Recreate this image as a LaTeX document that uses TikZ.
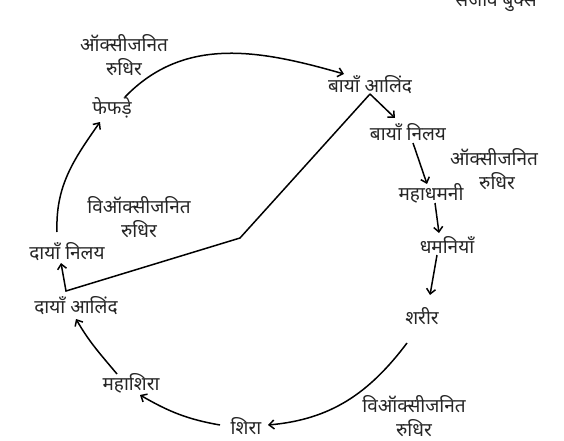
\documentclass[tikz,border=0pt]{standalone}
\usepackage{fontspec}
\newfontfamily\hindi[Script=Devanagari]{Noto Sans}
\usetikzlibrary{arrows.meta}
\usetikzlibrary{positioning}

\begin{document}
\begin{tikzpicture}[x=1pt,y=-1pt,
  lbl/.style={font=\hindi\fontsize{19}{24}\selectfont, text=black!85, inner sep=1pt},
  flow/.style={-{Straight Barb[length=5pt,width=9pt]}, line width=1.5pt}]

  \useasboundingbox (0,0) rectangle (564,441);

  % Organs
  \node[lbl] (books)      at (496,1)   {सजीव बुक्स};
  \node[lbl] (lungs)      at (112,108) {फेफड़े};
  \node[lbl] (lAtrium)    at (370,85)  {बायाँ आलिंद};
  \node[lbl] (lVentricle) at (408,132) {बायाँ निलय};
  \node[lbl] (aorta)      at (431,193) {महाधमनी};
  \node[lbl] (arteries)   at (447,245) {धमनियाँ};
  \node[lbl] (body)       at (422,316) {शरीर};
  \node[lbl] (vein)       at (246,426) {शिरा};
  \node[lbl] (venaCava)   at (131,383) {महाशिरा};
  \node[lbl] (rAtrium)    at (76,306)  {दायाँ आलिंद};
  \node[lbl] (rVentricle) at (67,252)  {दायाँ निलय};

  % Blood labels
  \node[lbl, align=center] (oxyTop)   at (124,55)  {ऑक्सीजनित\\रुधिर};
  \node[lbl, align=center] (oxyRight) at (494,169) {ऑक्सीजनित\\\hspace*{6pt}रुधिर};
  \node[lbl, align=center] (deoxyMid) at (139,217) {विऑक्सीजनित\\रुधिर};
  \node[lbl, align=center] (deoxyBot) at (414,416) {विऑक्सीजनित\\रुधिर};

  % Wall
  \coordinate (septum) at (240,238);
  \coordinate (corner) at (66,291);

  % Flows
  \draw[flow] ([shift={(13,-11)}]lungs.center) to[out=46,in=164] ([shift={(-26,-11)}]lAtrium.center);
  \draw[flow] ([shift={(0,9)}]lAtrium.center) -- ([shift={(-13,-14)}]lVentricle.center);
  \draw[flow] ([shift={(0,9)}]lAtrium.center) -- (septum) -- (corner) -- ([shift={(-6,11)}]rVentricle.center);
  \draw[flow] ([shift={(-10,-20)}]rVentricle.center) to[out=92,in=235] ([shift={(-12,14)}]lungs.center);
  \draw[flow] ([shift={(5,11)}]lVentricle.center) -- ([shift={(-4,-9)}]aorta.center);
  \draw[flow] ([shift={(4,10)}]aorta.center) -- ([shift={(-8,-12)}]arteries.center);
  \draw[flow] ([shift={(-10,10)}]arteries.center) -- ([shift={(8,-21)}]body.center);
  \draw[flow] ([shift={(-15,27)}]body.center) to[out=233,in=5] ([shift={(22,-1)}]vein.center);
  \draw[flow] ([shift={(-26,-1)}]vein.center) to[out=170,in=330] ([shift={(9,12)}]venaCava.center);
  \draw[flow] ([shift={(-14,-9)}]venaCava.center) to[out=130,in=300] ([shift={(0,13)}]rAtrium.center);
\end{tikzpicture}
\end{document}
